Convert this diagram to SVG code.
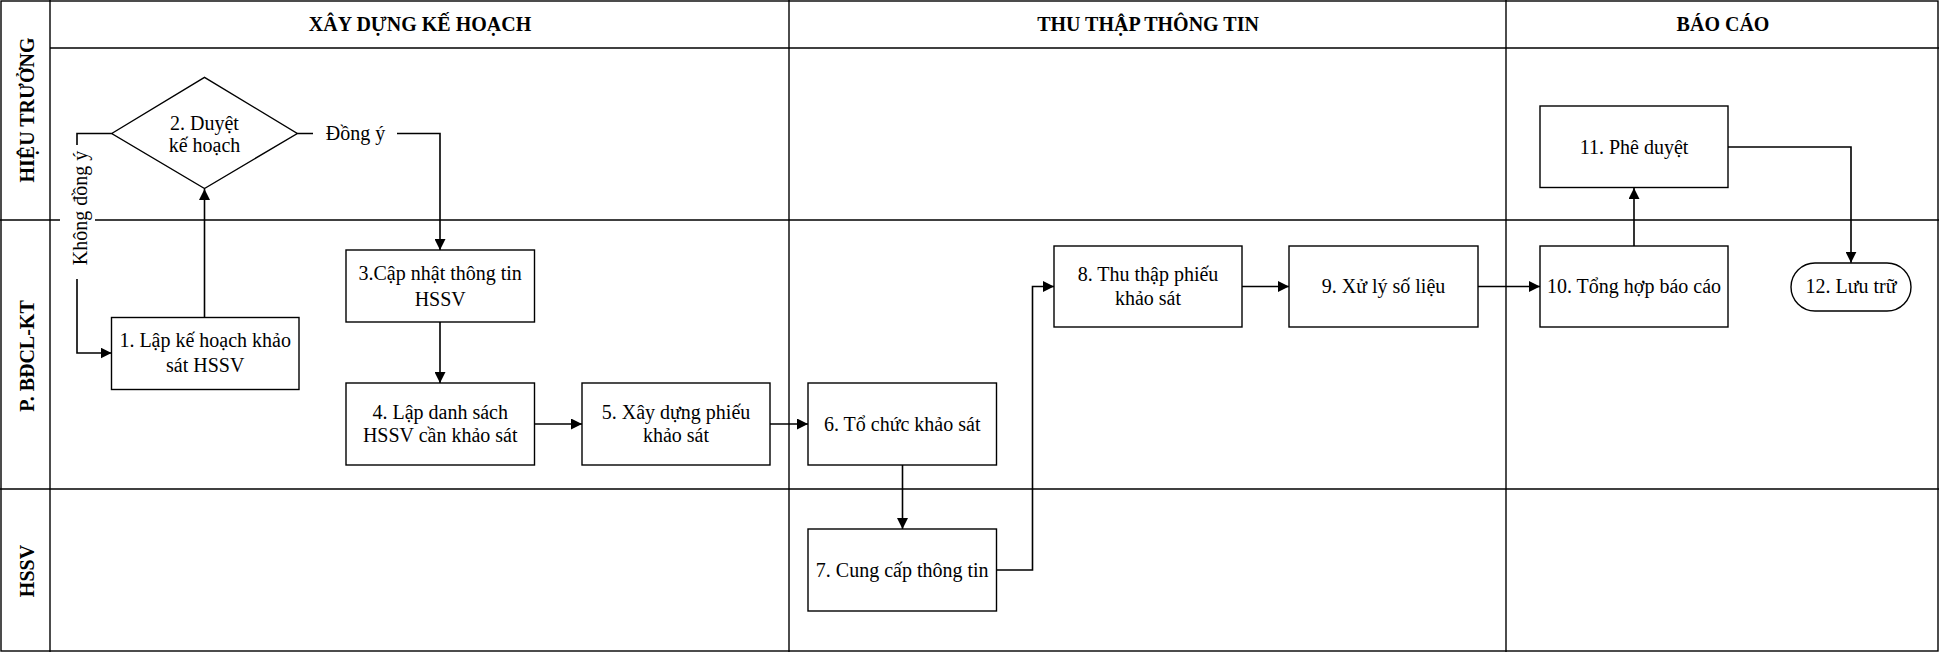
<svg xmlns="http://www.w3.org/2000/svg" width="1939" height="652" viewBox="0 0 1939 652">
<style>
.grid{stroke:#000;stroke-width:1.4;fill:none}
.box{fill:#fff;stroke:#000;stroke-width:1.4}
.con{fill:none;stroke:#000;stroke-width:1.6}
.t{font-family:"Liberation Serif","Times New Roman",serif;font-size:20px;fill:#000;text-anchor:middle}
.h{font-family:"Liberation Serif","Times New Roman",serif;font-size:20px;font-weight:bold;fill:#000;text-anchor:middle}
.bg{fill:#fff;stroke:none}
</style>
<defs>
<marker id="arr" markerWidth="11" markerHeight="11" refX="11" refY="5.5" orient="auto" markerUnits="userSpaceOnUse">
<path d="M0,0 L11,5.5 L0,11 z" fill="#000"/>
</marker>
</defs>
<rect width="1939" height="652" fill="#fff"/>
<g id="grid">
<rect class="grid" x="1" y="1" width="1937" height="650"/>
<line class="grid" x1="50" y1="0" x2="50" y2="652"/>
<line class="grid" x1="50" y1="48" x2="1939" y2="48"/>
<line class="grid" x1="0" y1="220" x2="1939" y2="220"/>
<line class="grid" x1="0" y1="489" x2="1939" y2="489"/>
<line class="grid" x1="789" y1="0" x2="789" y2="652"/>
<line class="grid" x1="1506" y1="0" x2="1506" y2="652"/>
<text class="h" x="420" y="31">XÂY DỰNG KẾ HOẠCH</text>
<text class="h" x="1148" y="31">THU THẬP THÔNG TIN</text>
<text class="h" x="1723" y="31">BÁO CÁO</text>
<text class="h" transform="translate(34,110) rotate(-90)">HIỆU TRƯỞNG</text>
<text class="h" transform="translate(34,356) rotate(-90)">P. BĐCL-KT</text>
<text class="h" transform="translate(34,571) rotate(-90)">HSSV</text>
</g>
<g id="connectors">
<path class="con" d="M204.5,317 V189" marker-end="url(#arr)"/>
<path class="con" d="M111.7,133.5 H77 V353 H111.5" marker-end="url(#arr)"/>
<path class="con" d="M297.3,133.5 H440 V250" marker-end="url(#arr)"/>
<path class="con" d="M440,322 V383" marker-end="url(#arr)"/>
<path class="con" d="M534.6,424 H582" marker-end="url(#arr)"/>
<path class="con" d="M770,424 H808" marker-end="url(#arr)"/>
<path class="con" d="M902.5,465 V529" marker-end="url(#arr)"/>
<path class="con" d="M997,570 H1032.5 V286.5 H1054" marker-end="url(#arr)"/>
<path class="con" d="M1242,286.5 H1289" marker-end="url(#arr)"/>
<path class="con" d="M1478,286.5 H1540" marker-end="url(#arr)"/>
<path class="con" d="M1634,246 V188" marker-end="url(#arr)"/>
<path class="con" d="M1728,147 H1851 V262.7" marker-end="url(#arr)"/>
<rect class="bg" x="313" y="118" width="84" height="32"/>
<text class="t" x="355.5" y="140">Đồng ý</text>
<rect class="bg" x="60" y="145" width="35" height="134"/>
<text class="t" transform="translate(87,208) rotate(-90)">Không đồng ý</text>
</g>
<g id="n2">
<polygon class="box" points="111.7,133.5 204.5,77.3 297.3,133.5 204.5,188.5"/>
<text class="t" x="204.5" y="129.5">2. Duyệt</text>
<text class="t" x="204.5" y="151.5">kế hoạch</text>
</g>
<g id="n1">
<rect class="box" x="111.5" y="317.5" width="187.5" height="72"/>
<text class="t" x="205.2" y="347">1. Lập kế hoạch khảo</text>
<text class="t" x="205.2" y="372">sát HSSV</text>
</g>
<g id="n3">
<rect class="box" x="346" y="250" width="188.5" height="72"/>
<text class="t" x="440.2" y="280">3.Cập nhật thông tin</text>
<text class="t" x="440.2" y="306">HSSV</text>
</g>
<g id="n4">
<rect class="box" x="346" y="383" width="188.5" height="82"/>
<text class="t" x="440.2" y="418.5">4. Lập danh sách</text>
<text class="t" x="440.2" y="442">HSSV cần khảo sát</text>
</g>
<g id="n5">
<rect class="box" x="582" y="383" width="188" height="82"/>
<text class="t" x="676" y="418.5">5. Xây dựng phiếu</text>
<text class="t" x="676" y="442">khảo sát</text>
</g>
<g id="n6">
<rect class="box" x="808" y="383" width="188.5" height="82"/>
<text class="t" x="902.2" y="430.5">6. Tổ chức khảo sát</text>
</g>
<g id="n7">
<rect class="box" x="808" y="529" width="188.5" height="82"/>
<text class="t" x="902.2" y="576.5">7. Cung cấp thông tin</text>
</g>
<g id="n8">
<rect class="box" x="1054" y="246" width="188" height="81"/>
<text class="t" x="1148" y="281">8. Thu thập phiếu</text>
<text class="t" x="1148" y="305">khảo sát</text>
</g>
<g id="n9">
<rect class="box" x="1289" y="246" width="189" height="81"/>
<text class="t" x="1383.5" y="293">9. Xử lý số liệu</text>
</g>
<g id="n10">
<rect class="box" x="1540" y="246" width="188" height="81"/>
<text class="t" x="1634" y="293">10. Tổng hợp báo cáo</text>
</g>
<g id="n11">
<rect class="box" x="1540" y="106" width="188" height="81.5"/>
<text class="t" x="1634" y="153.5">11. Phê duyệt</text>
</g>
<g id="n12">
<rect class="box" x="1791" y="263" width="120" height="48" rx="24" ry="24"/>
<text class="t" x="1851" y="293">12. Lưu trữ</text>
</g>
</svg>
